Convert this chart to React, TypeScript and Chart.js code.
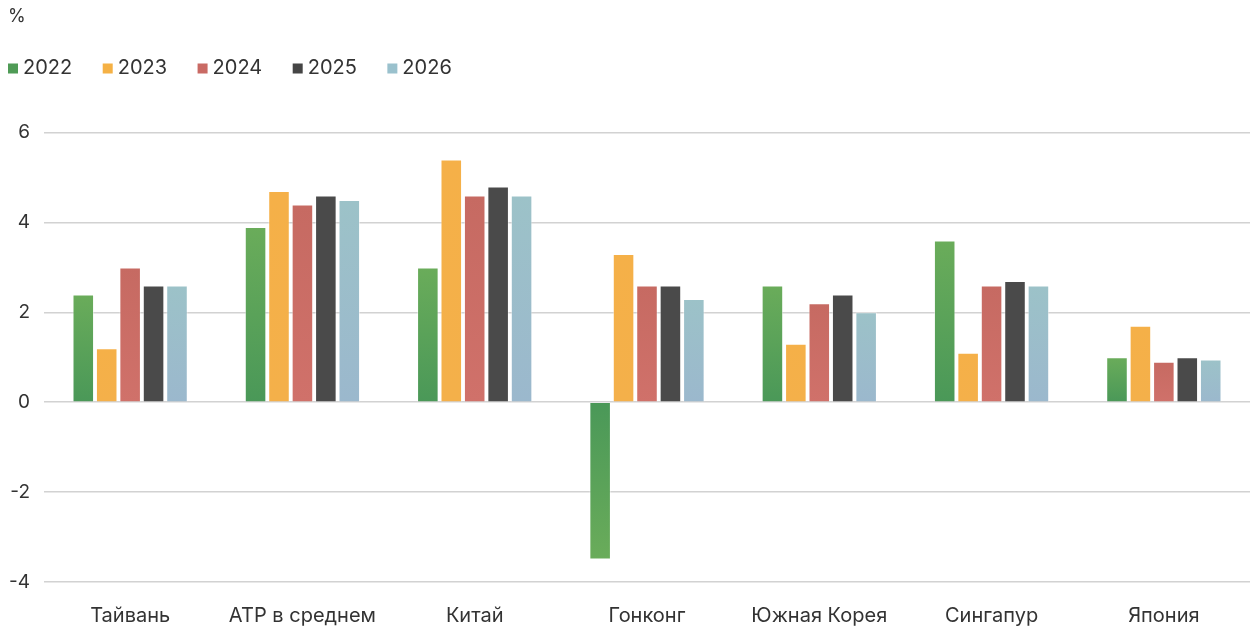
import React, { useEffect, useRef } from "react";
import { Chart, registerables } from "chart.js";

Chart.register(...registerables);

const categories = ["Тайвань", "АТР в среднем", "Китай", "Гонконг", "Южная Корея", "Сингапур", "Япония"];
const seriesNames = ["2022", "2023", "2024", "2025", "2026"];
const values2022 = [2.4, 3.9, 3.0, -3.5, 2.6, 3.6, 1.0];
const values2023 = [1.2, 4.7, 5.4, 3.3, 1.3, 1.1, 1.7];
const values2024 = [3.0, 4.4, 4.6, 2.6, 2.2, 2.6, 0.9];
const values2025 = [2.6, 4.6, 4.8, 2.6, 2.4, 2.7, 1.0];
const values2026 = [2.6, 4.5, 4.6, 2.3, 2.0, 2.6, 0.95];
const yTicks = [-4, -2, 0, 2, 4, 6];

const legendColors = ["#4f9b56", "#f5b145", "#c96a64", "#454545", "#9ac1cd"];
const baseColors = ["#4a9858", "#f4b04a", "#d0716a", "#4a4a4a", "#9bb8cd"];
const tipColors = ["#6aac5a", "#f5b048", "#c66a62", "#4a4a4a", "#9cc2c8"];

const FONT = "Inter, 'Noto Sans', sans-serif";
const TEXT = "#333333";

const yearLegend = {
  id: "yearLegend",
  afterDraw(chart: any) {
    const ctx = chart.ctx;
    const cy = 68;
    ctx.save();
    ctx.font = `20px ${FONT}`;
    ctx.textBaseline = "middle";
    ctx.textAlign = "left";
    let x = 8;
    chart.data.datasets.forEach((ds: any, i: number) => {
      ctx.fillStyle = legendColors[i];
      ctx.fillRect(x, cy - 4.5, 10, 10);
      ctx.fillStyle = TEXT;
      ctx.fillText(ds.label, x + 15, cy);
      x += 15 + ctx.measureText(ds.label).width + 30.5;
    });
    ctx.restore();
  },
};

export default function App() {
  const ref = useRef<HTMLCanvasElement | null>(null);

  useEffect(() => {
    if (!ref.current) return;
    const all = [values2022, values2023, values2024, values2025, values2026];
    const gradientFor = (i: number) => (ctx: any) => {
      const chart = ctx.chart;
      if (!chart.chartArea || ctx.raw === undefined) return baseColors[i];
      const y = chart.scales.y;
      const p0 = y.getPixelForValue(0);
      const p1 = y.getPixelForValue(ctx.raw);
      if (!isFinite(p0) || !isFinite(p1) || p0 === p1) return baseColors[i];
      const g = chart.ctx.createLinearGradient(0, p0, 0, p1);
      g.addColorStop(0, baseColors[i]);
      g.addColorStop(1, tipColors[i]);
      return g;
    };
    const chart = new Chart(ref.current, {
      type: "bar",
      data: {
        labels: categories,
        datasets: all.map((d, i) => ({
          label: seriesNames[i],
          data: d,
          backgroundColor: gradientFor(i),
          borderColor: "rgba(255,255,255,0.45)",
          borderWidth: 1,
          categoryPercentage: 0.68,
          barPercentage: 0.92,
        })),
      },
      plugins: [yearLegend],
      options: {
        animation: false,
        responsive: false,
        maintainAspectRatio: false,
        layout: { padding: { left: 8, right: 0, top: 0, bottom: 0 } },
        plugins: {
          tooltip: { enabled: false },
          legend: { display: false },
          title: {
            display: true,
            text: "%",
            align: "start",
            color: TEXT,
            font: { family: FONT, size: 18, weight: "normal" },
            padding: { top: 6, bottom: 105 },
          },
        },
        scales: {
          x: {
            grid: { display: false, drawTicks: false },
            border: { display: false },
            afterFit: (scale: any) => {
              scale.height = 46;
            },
            ticks: {
              color: TEXT,
              font: { family: FONT, size: 20 },
              padding: 22,
              maxRotation: 0,
            },
          },
          y: {
            min: -4,
            max: 6,
            afterBuildTicks: (scale: any) => {
              scale.ticks = yTicks.map((v) => ({ value: v }));
            },
            afterFit: (scale: any) => {
              scale.width = 36;
            },
            grid: { color: "#d2d2d2", lineWidth: 1.5, drawTicks: false },
            border: { display: false },
            ticks: {
              color: TEXT,
              font: { family: FONT, size: 19 },
              padding: 14,
            },
          },
        },
      },
    });
    return () => chart.destroy();
  }, []);

  return (
    <div style={{ position: "fixed", left: 0, top: 0, width: 1250, height: 628, background: "#ffffff" }}>
      <canvas ref={ref} width={1250} height={628} style={{ display: "block", width: 1250, height: 628 }} />
    </div>
  );
}
